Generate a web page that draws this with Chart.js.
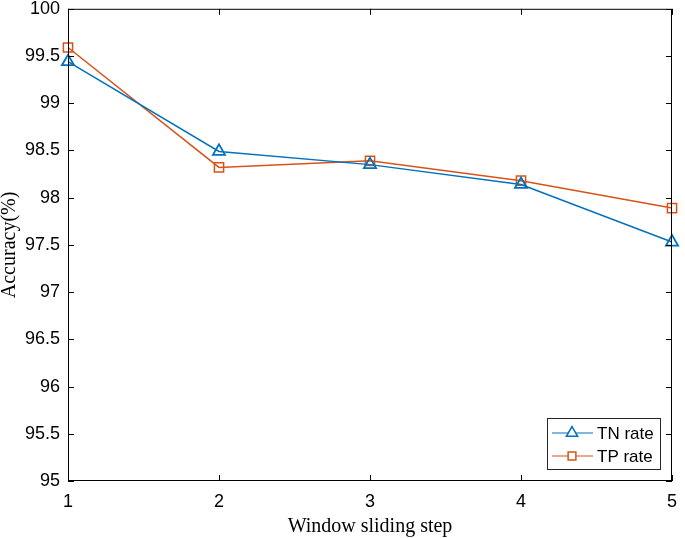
<!DOCTYPE html>
<html lang="en">
<head>
    <meta charset="UTF-8">
    <title>Accuracy vs window sliding step</title>
    <script src="https://cdn.jsdelivr.net/npm/chart.js"></script>
    <style>
        html, body { margin: 0; padding: 0; background: #fff; }
        #wrap { width: 685px; height: 538px; }
    </style>
</head>
<body>
    <div id="wrap"><canvas id="chartCanvas" width="685" height="538"></canvas></div>
    <script>
        // values
        const steps = ['1', '2', '3', '4', '5'];
        const tnRate = [99.44, 98.49, 98.35, 98.14, 97.53];
        const tpRate = [99.59, 98.32, 98.39, 98.18, 97.89];
        const yTicks = [95, 95.5, 96, 96.5, 97, 97.5, 98, 98.5, 99, 99.5, 100];

        const blue = '#0072BD';
        const orange = '#D95319';
        const tickFont = { family: 'Arial, "Liberation Sans", sans-serif', size: 18 };
        const titleFont = { family: '"Times New Roman", "Liberation Serif", serif', size: 20, lineHeight: 1 };

        // MATLAB style box with inward ticks on all four sides + legend inside axes
        const boxPlugin = {
            id: 'boxPlugin',
            afterDraw(chart) {
                const c = chart.ctx, a = chart.chartArea;
                const xs = chart.scales.x, ys = chart.scales.y;
                c.save();
                c.strokeStyle = '#000';
                c.lineWidth = 1;
                c.strokeRect(a.left + 0.5, a.top + 0.5, a.right - a.left - 1, a.bottom - a.top - 1);
                const t = 6;
                c.beginPath();
                steps.forEach((s, i) => {
                    const x = Math.round(xs.getPixelForValue(i)) + 0.5;
                    c.moveTo(x, a.bottom); c.lineTo(x, a.bottom - t);
                    c.moveTo(x, a.top); c.lineTo(x, a.top + t);
                });
                yTicks.forEach(v => {
                    const y = Math.round(ys.getPixelForValue(v)) + 0.5;
                    c.moveTo(a.left, y); c.lineTo(a.left + t, y);
                    c.moveTo(a.right, y); c.lineTo(a.right - t, y);
                });
                c.stroke();

                // legend
                const lx = 547, ly = 418, lw = 113, lh = 51;
                c.fillStyle = '#fff';
                c.fillRect(lx, ly, lw, lh);
                c.strokeStyle = '#262626';
                c.strokeRect(lx + 0.5, ly + 0.5, lw, lh);
                const items = [
                    { label: 'TN rate', color: blue, style: 'triangle', y: ly + 15 },
                    { label: 'TP rate', color: orange, style: 'rect', y: ly + 38 }
                ];
                items.forEach(it => {
                    c.strokeStyle = it.color;
                    c.lineWidth = 1.2;
                    c.beginPath();
                    c.moveTo(lx + 5, it.y); c.lineTo(lx + 46, it.y);
                    c.stroke();
                    c.lineWidth = 1.5;
                    c.fillStyle = '#fff';
                    Chart.helpers.drawPoint(c, { pointStyle: it.style, radius: it.style === 'rect' ? 5.5 : 6.5, rotation: 0, borderWidth: 1.5 }, lx + 25, it.y);
                    c.fillStyle = '#000';
                    c.font = '17px Arial, "Liberation Sans", sans-serif';
                    c.textBaseline = 'middle';
                    c.textAlign = 'left';
                    c.fillText(it.label, lx + 50, it.y + 1);
                });
                c.restore();
            }
        };

        new Chart(document.getElementById('chartCanvas'), {
            type: 'line',
            data: {
                labels: steps,
                datasets: [
                    {
                        label: 'TN rate', data: tnRate, borderColor: blue, backgroundColor: 'transparent',
                        borderWidth: 1.5, pointStyle: 'triangle', pointRadius: 7, pointBorderWidth: 1.8,
                        pointBackgroundColor: 'transparent', pointBorderColor: blue, tension: 0
                    },
                    {
                        label: 'TP rate', data: tpRate, borderColor: orange, backgroundColor: 'transparent',
                        borderWidth: 1.5, pointStyle: 'rect', pointRadius: 6.5, pointBorderWidth: 1.5,
                        pointBackgroundColor: 'transparent', pointBorderColor: orange, tension: 0
                    }
                ]
            },
            options: {
                responsive: false,
                animation: false,
                layout: { padding: { left: 0, right: 13, top: 6, bottom: 0 } },
                plugins: { legend: { display: false }, tooltip: { enabled: false } },
                scales: {
                    x: {
                        offset: false,
                        grid: { display: false, drawTicks: false },
                        border: { display: false },
                        ticks: { color: '#000', font: tickFont, padding: 10, maxRotation: 0 },
                        title: { display: true, text: 'Window sliding step', color: '#000', font: titleFont, padding: { top: 0, bottom: 1 } },
                        afterFit(s) { s.height = 57; s.paddingLeft = 0; s.paddingRight = 0; }
                    },
                    y: {
                        min: 95, max: 100,
                        grid: { display: false, drawTicks: false },
                        border: { display: false },
                        afterBuildTicks(s) { s.ticks = yTicks.map(v => ({ value: v })); },
                        ticks: { color: '#000', font: tickFont, padding: 8, callback: v => String(v) },
                        title: { display: true, text: 'Accuracy(%)', color: '#000', font: titleFont, padding: { top: 0, bottom: 0 } },
                        afterFit(s) { s.width = 68; s.paddingTop = 0; s.paddingBottom = 0; }
                    }
                }
            },
            plugins: [boxPlugin]
        });
    </script>
</body>
</html>
